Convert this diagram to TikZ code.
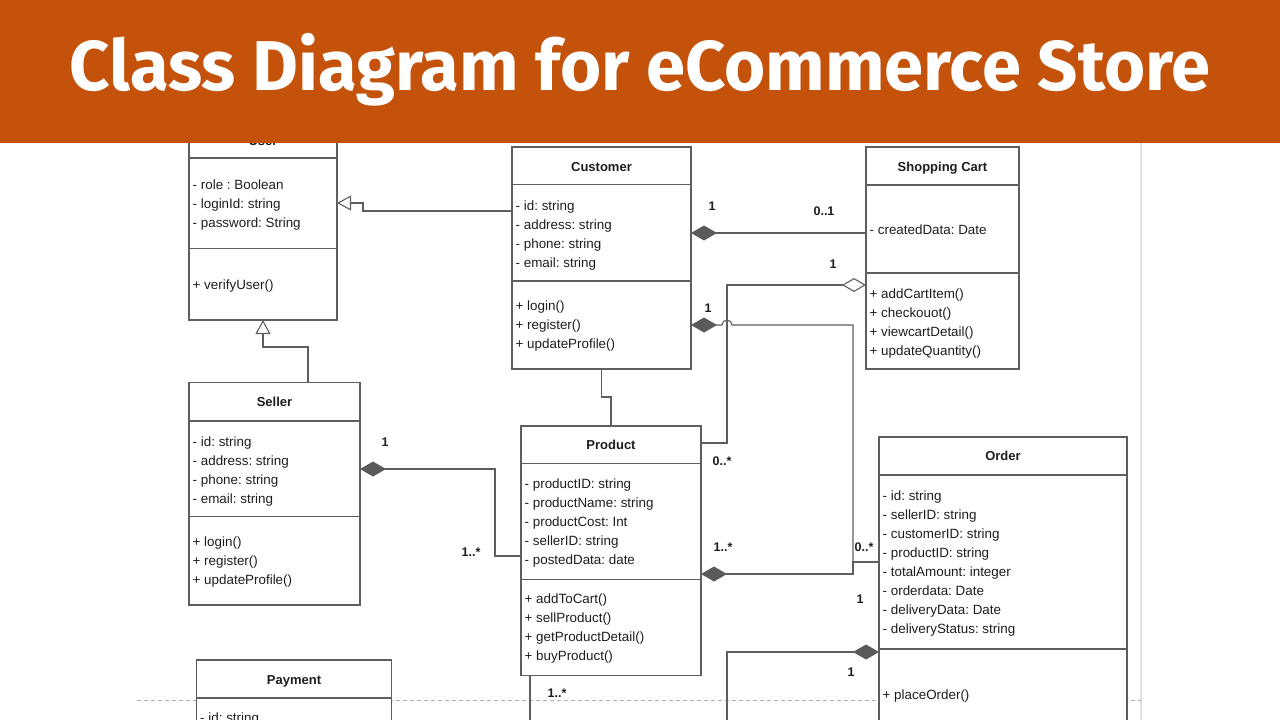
\documentclass[tikz,border=0pt]{standalone}
\usepackage{fontspec}
\setmainfont{Liberation Sans}
\newfontfamily\bannerfont{Fira Sans}
\usetikzlibrary{arrows.meta}
\frenchspacing
\definecolor{banner}{HTML}{C4520A}
\definecolor{boxgray}{HTML}{5E5E5E}
\definecolor{diagray}{HTML}{5A5A5A}
\definecolor{ink}{HTML}{1E1E1E}
\tikzset{
  classbox/.style = {draw=boxgray, line width=1.1pt, fill=white, inner sep=0pt,
    outer sep=0pt, anchor=north west},
  cname/.style = {font=\bfseries\fontsize{13}{15}\selectfont, text=ink,
    anchor=base, inner sep=0pt},
  member/.style = {font=\fontsize{13.4}{15}\selectfont, text=ink,
    anchor=base west, inner sep=0pt},
  mult/.style = {font=\bfseries\fontsize{12.5}{15}\selectfont, text=ink,
    anchor=base, inner sep=0pt},
  divider/.style = {draw=boxgray, line width=1.1pt},
  wire/.style = {draw=boxgray, line width=1.1pt},
  comp/.style = {wire, {Diamond[length=26pt,width=15pt,color=diagray]}-},% filled diamond
  aggr/.style = {wire, -{Diamond[length=24pt,width=14pt,fill=white]}},% hollow diamond
  gen/.style = {wire, -{Triangle[length=14pt,width=15pt,fill=white]}}% inheritance
}
% one member per line, 19px apart
\newcommand{\members}[4]{%
  \foreach \m [count=\i] in {#4}
    \node[member] (#1\i) at (#2,#3+19*\i-19) {\m};}

\begin{document}
\begin{tikzpicture}[x=1pt,y=-1pt]
\clip (0,0) rectangle (1280,720);
\fill[white] (0,0) rectangle (1280,720);
% page edge and page break of the drawing tool
\draw[black!12, line width=1.5pt] (1141,143) -- (1141,720);
\draw[black!30, dashed, dash pattern=on 4pt off 3pt] (137,700) -- (1141,700);

% User
\node[classbox, minimum width=148pt, minimum height=210pt] (user) at (189,110) {};
\draw[divider] (user.west |- 0,158) -- (user.east |- 0,158);
\draw[divider] (user.west |- 0,248.5) -- (user.east |- 0,248.5);
\node[cname] (user-t) at (263,145) {User};
\members{user-a}{192.5}{189}{- role : Boolean, - loginId: string, - password: String}
\members{user-m}{192.5}{289}{+ verifyUser()}

% Customer
\node[classbox, minimum width=179pt, minimum height=222pt] (cust) at (512,147) {};
\draw[divider] (cust.west |- 0,184.5) -- (cust.east |- 0,184.5);
\draw[divider] (cust.west |- 0,281) -- (cust.east |- 0,281);
\node[cname] (cust-t) at (cust.north |- 0,171.5) {Customer};
\members{cust-a}{515.5}{210.5}{- id: string, - address: string, - phone: string, - email: string}
\members{cust-m}{515.5}{310.5}{+ login(), + register(), + updateProfile()}

% Shopping Cart
\node[classbox, minimum width=153pt, minimum height=222pt] (cart) at (866,147) {};
\draw[divider] (cart.west |- 0,185) -- (cart.east |- 0,185);
\draw[divider] (cart.west |- 0,273) -- (cart.east |- 0,273);
\node[cname] (cart-t) at (cart.north |- 0,171.5) {Shopping Cart};
\members{cart-a}{869.5}{234}{- createdData: Date}
\members{cart-m}{869.5}{298}{+ addCartItem(), + checkouot(), + viewcartDetail(), + updateQuantity()}

% Seller
\node[classbox, minimum width=171pt, minimum height=222.5pt] (seller) at (189,382.5) {};
\draw[divider] (seller.west |- 0,421) -- (seller.east |- 0,421);
\draw[divider] (seller.west |- 0,516.5) -- (seller.east |- 0,516.5);
\node[cname] (seller-t) at (seller.north |- 0,406.5) {Seller};
\members{seller-a}{192.5}{446}{- id: string, - address: string, - phone: string, - email: string}
\members{seller-m}{192.5}{546.5}{+ login(), + register(), + updateProfile()}

% Product
\node[classbox, minimum width=180pt, minimum height=249.5pt] (prod) at (521,426) {};
\draw[divider] (prod.west |- 0,463.5) -- (prod.east |- 0,463.5);
\draw[divider] (prod.west |- 0,579.5) -- (prod.east |- 0,579.5);
\node[cname] (prod-t) at (prod.north |- 0,449.5) {Product};
\members{prod-a}{524.5}{488}{- productID: string, - productName: string, - productCost: Int, - sellerID: string, - postedData: date}
\members{prod-m}{524.5}{603}{+ addToCart(), + sellProduct(), + getProductDetail(), + buyProduct()}

% Order
\node[classbox, minimum width=248pt, minimum height=323pt] (order) at (879,437) {};
\draw[divider] (order.west |- 0,475) -- (order.east |- 0,475);
\draw[divider] (order.west |- 0,649) -- (order.east |- 0,649);
\node[cname] (order-t) at (order.north |- 0,460.5) {Order};
\members{order-a}{882.5}{500}{- id: string, - sellerID: string, - customerID: string, - productID: string, - totalAmount: integer, - orderdata: Date, - deliveryData: Date, - deliveryStatus: string}
\members{order-m}{882.5}{699}{+ placeOrder()}

% Payment
\node[classbox, minimum width=195pt, minimum height=100pt] (pay) at (196.5,660) {};
\draw[divider] (pay.west |- 0,698) -- (pay.east |- 0,698);
\node[cname] (pay-t) at (pay.north |- 0,684) {Payment};
\members{pay-a}{200}{722.5}{- id: string}

% loose ends below the page
\coordinate (payend) at (530,720);
\coordinate (orderend) at (727,720);

% inheritance
\draw[gen] (cust.west |- 0,211) -- (363,211) |- (user.east |- 0,203);
\draw[gen] (seller.north -| 308,0) |- (263,347) -- (user.south -| 263,0);

% compositions
\draw[comp] (cust.east |- 0,233) -- (cart.west |- 0,233);
\draw[comp] (cust.east |- 0,325) -- (722,325) arc[start angle=180, end angle=360, radius=5]
  -- (853,325) |- (order.west |- 0,562);
\draw[comp] (prod.east |- 0,574) -- (853,574) |- (order.west |- 0,562);
\draw[comp] (seller.east |- 0,469) -- (495,469) |- (prod.west |- 0,556);
\draw[comp] (order.west |- 0,652) -| (orderend);

% aggregation and plain links
\draw[aggr] (prod.east |- 0,443) -- (727,443) |- (cart.west |- 0,285);
\draw[wire] (cust.south) -- ++(0,28) -| (prod.north);
\draw[wire] (prod.south -| payend) -- (payend);

% multiplicities
\node[mult] (m1) at (712,210) {1};
\node[mult] (m2) at (824,215) {0..1};
\node[mult] (m3) at (833,268) {1};
\node[mult] (m4) at (708,312.5) {1};
\node[mult] (m5) at (722,465) {0..*};
\node[mult] (m6) at (723,551.5) {1..*};
\node[mult] (m7) at (864,551.5) {0..*};
\node[mult] (m8) at (860,603) {1};
\node[mult] (m9) at (851,676.5) {1};
\node[mult] (m10) at (385,446.5) {1};
\node[mult] (m11) at (471,556.5) {1..*};
\node[mult] (m12) at (557,697) {1..*};

% title banner
\fill[banner] (0,0) rectangle (1280,143);
\node[font=\bannerfont\bfseries\fontsize{70.5}{72}\selectfont, text=white,
  anchor=base, inner sep=0pt] (heading) at (640,90) {Class Diagram for eCommerce Store};
\end{tikzpicture}
\end{document}
